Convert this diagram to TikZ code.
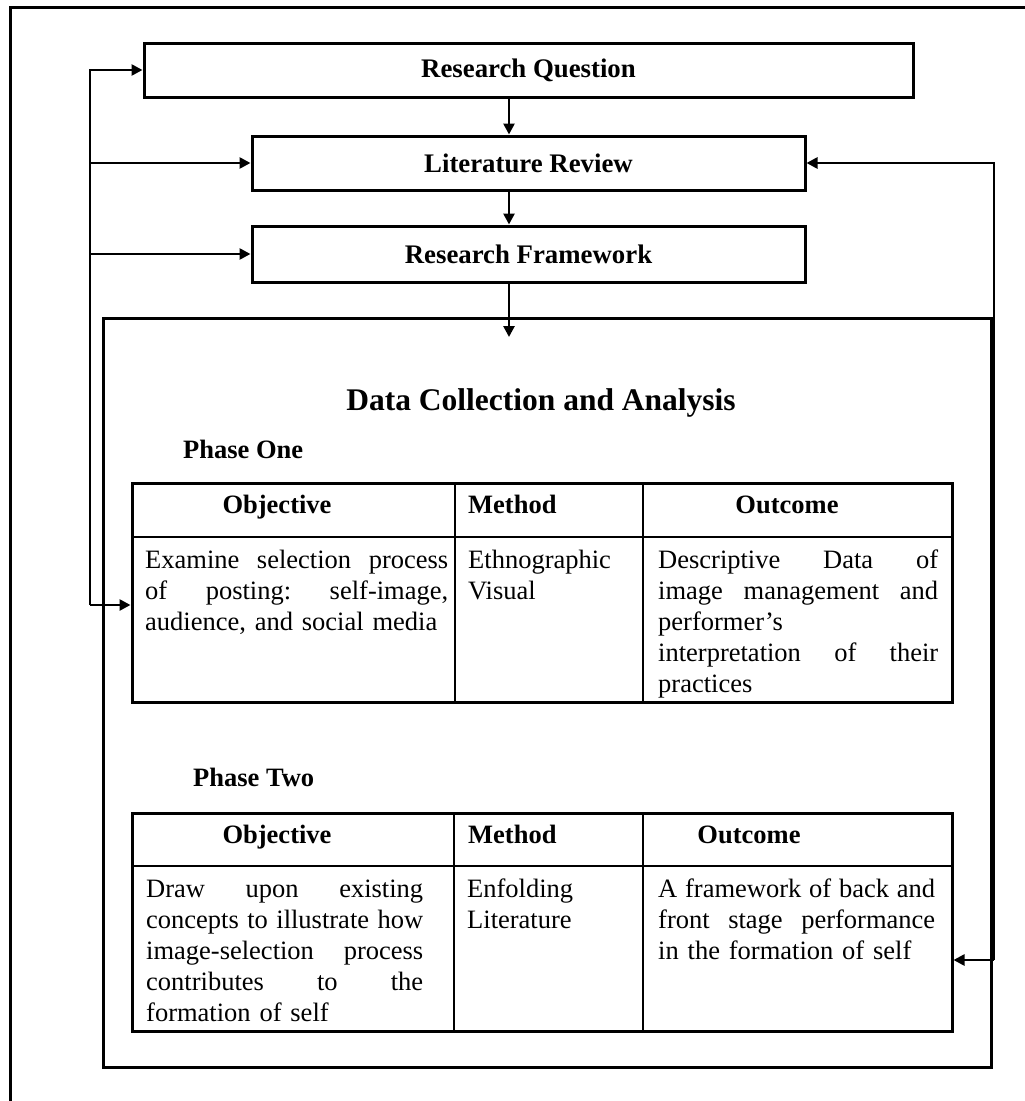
\documentclass[tikz,border=0pt]{standalone}
\usepackage{fontspec}
\setmainfont{Liberation Serif}
\usetikzlibrary{arrows.meta}

% one stretched (justified) line of a cell, of the given width;
% the node's align=left fixes \spaceskip, so it is reset here
\newcommand\jline[2]{\makebox[#1][s]{\frenchspacing\spaceskip=0pt\xspaceskip=0pt\relax #2}}

\tikzset{
  frame/.style={draw, line width=3pt},
  gridline/.style={line width=2.6pt},
  box/.style={draw, line width=3pt, minimum height=54pt, inner sep=0pt,
    font=\bfseries\fontsize{26.8}{31}\selectfont},
  tablebox/.style={draw, line width=3pt, minimum width=820pt, inner sep=0pt},
  arr/.style={line width=2.6pt, -{Triangle[length=11pt,width=11pt]}},
  cell/.style={anchor=base west, inner sep=0pt, align=left,
    font=\fontsize{26.5}{31}\selectfont},
  head/.style={anchor=base, inner sep=0pt, font=\bfseries\fontsize{26.5}{31}\selectfont},
  headw/.style={anchor=base west, inner sep=0pt, font=\bfseries\fontsize{26.5}{31}\selectfont},
}

\begin{document}
\begin{tikzpicture}[x=1pt, y=-1pt]
\useasboundingbox (0,0) rectangle (1025,1101);

% outer frame
\draw[frame] (10,1120) -- (10,7) -- (1040,7);

% process boxes
\node[box, minimum width=769pt] (rq) at (528.5,70) {Research Question};
\node[box, minimum width=553pt] (lr) at (528.5,163) {Literature Review};
\node[box, minimum width=553pt, minimum height=56pt] (rf) at (528.5,254) {Research Framework};

% data collection container
\node[draw, line width=3pt, minimum width=888pt, minimum height=749pt, inner sep=0pt]
  (dca) at (547,692.5) {};
\node[anchor=base, inner sep=0pt, font=\bfseries\fontsize{31.5}{37}\selectfont]
  (dtitle) at (541,410) {Data Collection and Analysis};
\node[headw] (p1) at (183,458) {Phase One};
\node[headw] (p2) at (193,786) {Phase Two};

% phase one table
\node[tablebox, minimum height=219pt] (t1) at (542,592.5) {};
\draw[gridline] (132,537) -- (952,537);
\draw[gridline] (455,483) -- (455,702);
\draw[gridline] (643,483) -- (643,702);
\node[head] (t1h1) at (277,513) {Objective};
\node[headw] (t1h2) at (468,513) {Method};
\node[head] (t1h3) at (787,513) {Outcome};
\node[cell, text width=303pt] (t1c1) at (145,568)
  {\jline{303pt}{Examine selection process}\\ \jline{303pt}{of posting: self-image,}\\ audience, and social media};
\node[cell, text width=170pt] (t1c2) at (468,568) {Ethnographic\\ Visual};
\node[cell, text width=280pt] (t1c3) at (658,568)
  {\jline{280pt}{Descriptive Data of}\\ \jline{280pt}{image management and}\\ performer’s\\
   \jline{280pt}{interpretation of their}\\ practices};

% phase two table
\node[tablebox, minimum height=218pt] (t2) at (542,922) {};
\draw[gridline] (132,866) -- (952,866);
\draw[gridline] (454,813) -- (454,1031);
\draw[gridline] (643,813) -- (643,1031);
\node[head] (t2h1) at (277,843) {Objective};
\node[headw] (t2h2) at (468,843) {Method};
\node[head] (t2h3) at (749,843) {Outcome};
\node[cell, text width=277pt] (t2c1) at (146,897)
  {\jline{277pt}{Draw upon existing}\\ \jline{277pt}{concepts to illustrate how}\\ \jline{277pt}{image-selection process}\\
   \jline{277pt}{contributes to the}\\ formation of self};
\node[cell, text width=170pt] (t2c2) at (467,897) {Enfolding\\ Literature};
\node[cell, text width=277pt] (t2c3) at (658,897)
  {\jline{277pt}{A framework of back and}\\ \jline{277pt}{front stage performance}\\ in the formation of self};

% main flow
\coordinate (dcin) at (509,337);
\draw[arr] ([xshift=-19.5pt]rq.south) -- ([xshift=-19.5pt]lr.north);
\draw[arr] ([xshift=-19.5pt]lr.south) -- ([xshift=-19.5pt]rf.north);
\draw[arr] ([xshift=-19.5pt]rf.south) -- (dcin);

% feedback on the left
\coordinate (lbus) at (90,605);
\draw[arr] (lbus) |- (rq.west);
\draw[arr] (lbus |- lr.west) -- (lr.west);
\draw[arr] (lbus |- rf.west) -- (rf.west);
\draw[arr] (lbus) -- (lbus -| t1.west);

% feedback on the right
\coordinate (rbus) at (994,960);
\draw[arr] (rbus) |- (lr.east);
\draw[arr] (rbus) -- (rbus -| t2.east);
\end{tikzpicture}
\end{document}
